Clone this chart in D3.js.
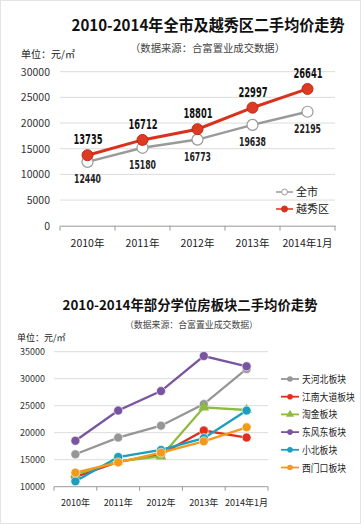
<!DOCTYPE html>
<html><head><meta charset="utf-8">
<script src="https://cdn.jsdelivr.net/npm/d3@7/dist/d3.min.js"></script>
<style>body{margin:0;background:#fff;font-family:"Noto Sans CJK SC","Noto Sans",sans-serif;}</style>
</head><body><svg id="c" width="361" height="524"></svg>
<script>
// ---- data: chart 1 ----
const years = ["2010年","2011年","2012年","2013年","2014年1月"];
const cityName = "全市";
const cityValues = [12440, 15180, 16773, 19638, 22195];
const yuexiuName = "越秀区";
const yuexiuValues = [13735, 16712, 18801, 22997, 26641];
const yTicks1 = [0, 5000, 10000, 15000, 20000, 25000, 30000];
// ---- data: chart 2 ----
const blockNames = ["天河北板块","江南大道板块","淘金板块","东风东板块","小北板块","西门口板块"];
const tianhebei = [16000, 19100, 21300, 25300, 31800];
const jiangnan = [11800, 14600, 16000, 20400, 19100];
const taojin = [12300, 14700, 15600, 24700, 24200];
const dongfengdong = [18500, 24100, 27700, 34200, 32300];
const xiaobei = [11000, 15500, 16800, 19000, 24100];
const ximenkou = [12600, 14500, 16300, 18400, 21000];
const yTicks2 = [10000, 15000, 20000, 25000, 30000, 35000];

const svg = d3.select("#c");
svg.append("rect").attr("x",0.5).attr("y",0.5).attr("width",360).attr("height",523)
  .attr("fill","none").attr("stroke","#e4e4e4");

// ================= Chart 1 =================
svg.append("text").attr("x",208).attr("y",31).attr("text-anchor","middle")
  .attr("font-size",15.5).attr("font-weight","bold").attr("fill","#111")
  .attr("textLength",273).attr("lengthAdjust","spacingAndGlyphs")
  .text("2010-2014年全市及越秀区二手均价走势");
svg.append("text").attr("x",130).attr("y",52)
  .attr("font-size",10.5).attr("fill","#444")
  .attr("textLength",155).attr("lengthAdjust","spacingAndGlyphs")
  .text("（数据来源：合富置业成交数据）");
svg.append("text").attr("x",21).attr("y",58).attr("font-size",10).attr("fill","#222").text("单位：元/㎡");

const x1 = d3.scaleBand().domain(years).range([60,335]);
const y1 = d3.scaleLinear().domain([0,30000]).range([225.7,71.7]);
const g1 = svg.append("g");
g1.selectAll("line.grid").data(yTicks1.filter(d=>d>0)).join("line")
  .attr("x1",60).attr("x2",335).attr("y1",d=>y1(d)).attr("y2",d=>y1(d))
  .attr("stroke","#dcdcdc").attr("stroke-width",1);
g1.selectAll("text.yl").data(yTicks1).join("text")
  .attr("x",50).attr("y",d=>y1(d)+4).attr("text-anchor","end")
  .attr("font-size",10.5).attr("fill","#333").text(d=>d);
const ax1 = g1.append("g").attr("transform",`translate(0,${y1(0)})`)
  .call(d3.axisBottom(x1).tickSize(0).tickFormat(""));
ax1.select(".domain").attr("stroke","#999");
g1.selectAll("line.tk").data(d3.range(years.length+1)).join("line")
  .attr("x1",i=>60+i*x1.step()).attr("x2",i=>60+i*x1.step())
  .attr("y1",y1(0)).attr("y2",y1(0)+5).attr("stroke","#999");
g1.selectAll("text.xl").data(years).join("text")
  .attr("x",d=>x1(d)+x1.bandwidth()/2).attr("y",247).attr("text-anchor","middle")
  .attr("font-size",10.5).attr("fill","#222").text(d=>d);

const line1 = d3.line().x((d,i)=>x1(years[i])+x1.bandwidth()/2).y(d=>y1(d));
g1.append("path").datum(cityValues).attr("d",line1).attr("fill","none")
  .attr("stroke","#9a9a9a").attr("stroke-width",2.5);
g1.selectAll("circle.city").data(cityValues).join("circle")
  .attr("cx",(d,i)=>x1(years[i])+x1.bandwidth()/2).attr("cy",d=>y1(d)).attr("r",5.5)
  .attr("fill","#fff").attr("stroke","#9a9a9a").attr("stroke-width",1.2);
g1.append("path").datum(yuexiuValues).attr("d",line1).attr("fill","none")
  .attr("stroke","#d8321c").attr("stroke-width",3);
g1.selectAll("circle.yx").data(yuexiuValues).join("circle")
  .attr("cx",(d,i)=>x1(years[i])+x1.bandwidth()/2).attr("cy",d=>y1(d)).attr("r",5.5)
  .attr("fill","#dc3a22").attr("stroke","#c02a15").attr("stroke-width",1);
const lblFont = "'DejaVu Sans Condensed','DejaVu Sans',sans-serif";
g1.selectAll("text.yxl").data(yuexiuValues).join("text")
  .attr("x",(d,i)=>x1(years[i])+x1.bandwidth()/2-14).attr("y",d=>y1(d)-11)
  .attr("font-family",lblFont).attr("font-weight","bold")
  .attr("font-size",14).attr("fill","#111")
  .attr("textLength",29).attr("lengthAdjust","spacingAndGlyphs").text(d=>d);
g1.selectAll("text.cl").data(cityValues).join("text")
  .attr("x",(d,i)=>x1(years[i])+x1.bandwidth()/2-13.5).attr("y",d=>y1(d)+21)
  .attr("font-family",lblFont).attr("font-weight","bold")
  .attr("font-size",12.5).attr("fill","#222")
  .attr("textLength",27).attr("lengthAdjust","spacingAndGlyphs").text(d=>d);
// legend 1
const leg1 = [{n:cityName,c:"#9a9a9a",f:"#fff",yy:192},{n:yuexiuName,c:"#d8321c",f:"#d8321c",yy:209}];
leg1.forEach(l=>{
  svg.append("line").attr("x1",276).attr("x2",293).attr("y1",l.yy).attr("y2",l.yy).attr("stroke",l.c).attr("stroke-width",1.5);
  svg.append("circle").attr("cx",284.5).attr("cy",l.yy).attr("r",3).attr("fill",l.f).attr("stroke",l.c);
  svg.append("text").attr("x",296).attr("y",l.yy+4).attr("font-size",11).attr("fill","#222").text(l.n);
});

// ================= Chart 2 =================
svg.append("text").attr("x",190).attr("y",310).attr("text-anchor","middle")
  .attr("font-size",13.5).attr("font-weight","bold").attr("fill","#111")
  .attr("textLength",255).attr("lengthAdjust","spacingAndGlyphs")
  .text("2010-2014年部分学位房板块二手均价走势");
svg.append("text").attr("x",125).attr("y",328)
  .attr("font-size",9).attr("fill","#444")
  .attr("textLength",133).attr("lengthAdjust","spacingAndGlyphs")
  .text("（数据来源：合富置业成交数据）");
svg.append("text").attr("x",17).attr("y",341).attr("font-size",9).attr("fill","#222").text("单位：元/㎡");

const x2 = d3.scaleBand().domain(years).range([54,268]);
const y2 = d3.scaleLinear().domain([10000,35000]).range([486.7,351.7]);
const g2 = svg.append("g");
g2.selectAll("line.grid").data(yTicks2.filter(d=>d>10000)).join("line")
  .attr("x1",54).attr("x2",268).attr("y1",d=>y2(d)).attr("y2",d=>y2(d))
  .attr("stroke","#dcdcdc");
g2.selectAll("text.yl").data(yTicks2).join("text")
  .attr("x",45).attr("y",d=>y2(d)+3.5).attr("text-anchor","end")
  .attr("font-size",9).attr("fill","#333").text(d=>d);
g2.append("line").attr("x1",54).attr("x2",268).attr("y1",y2(10000)).attr("y2",y2(10000)).attr("stroke","#999");
g2.selectAll("line.tk").data(d3.range(years.length+1)).join("line")
  .attr("x1",i=>54+i*x2.step()).attr("x2",i=>54+i*x2.step())
  .attr("y1",y2(10000)).attr("y2",y2(10000)+4).attr("stroke","#999");
g2.selectAll("text.xl").data(years).join("text")
  .attr("x",d=>x2(d)+x2.bandwidth()/2).attr("y",506).attr("text-anchor","middle")
  .attr("font-size",9).attr("fill","#222").text(d=>d);

const series2 = [
  {n:blockNames[0],v:tianhebei,c:"#969696",m:"c"},
  {n:blockNames[1],v:jiangnan,c:"#e0301c",m:"c"},
  {n:blockNames[2],v:taojin,c:"#8dbb3b",m:"t"},
  {n:blockNames[3],v:dongfengdong,c:"#7a559f",m:"c"},
  {n:blockNames[4],v:xiaobei,c:"#1a9fbf",m:"c"},
  {n:blockNames[5],v:ximenkou,c:"#f29a1c",m:"c"}
];
const line2 = d3.line().x((d,i)=>x2(years[i])+x2.bandwidth()/2).y(d=>y2(d));
const sym = d3.symbol().type(d3.symbolTriangle).size(50);
series2.forEach(s=>{
  g2.append("path").datum(s.v).attr("d",line2).attr("fill","none").attr("stroke",s.c).attr("stroke-width",2.3);
  if(s.m==="c"){
    g2.selectAll(null).data(s.v).join("circle")
      .attr("cx",(d,i)=>x2(years[i])+x2.bandwidth()/2).attr("cy",d=>y2(d)).attr("r",4.5)
      .attr("fill",s.c).attr("stroke","#fff").attr("stroke-width",0.6);
  } else {
    g2.selectAll(null).data(s.v).join("path").attr("d",sym)
      .attr("transform",(d,i)=>`translate(${x2(years[i])+x2.bandwidth()/2},${y2(d)})`)
      .attr("fill",s.c);
  }
});
// legend 2
series2.forEach((s,i)=>{
  const yy = 379 + i*17.7;
  svg.append("line").attr("x1",281).attr("x2",299).attr("y1",yy).attr("y2",yy).attr("stroke",s.c).attr("stroke-width",1.8);
  if(s.m==="c") svg.append("circle").attr("cx",290).attr("cy",yy).attr("r",2.8).attr("fill",s.c);
  else svg.append("path").attr("d",d3.symbol().type(d3.symbolTriangle).size(28)).attr("transform",`translate(290,${yy})`).attr("fill",s.c);
  svg.append("text").attr("x",302).attr("y",yy+4).attr("font-size",10).attr("fill","#222")
    .attr("textLength",s.n.length*8.8).attr("lengthAdjust","spacingAndGlyphs").text(s.n);
});
</script></body></html>
